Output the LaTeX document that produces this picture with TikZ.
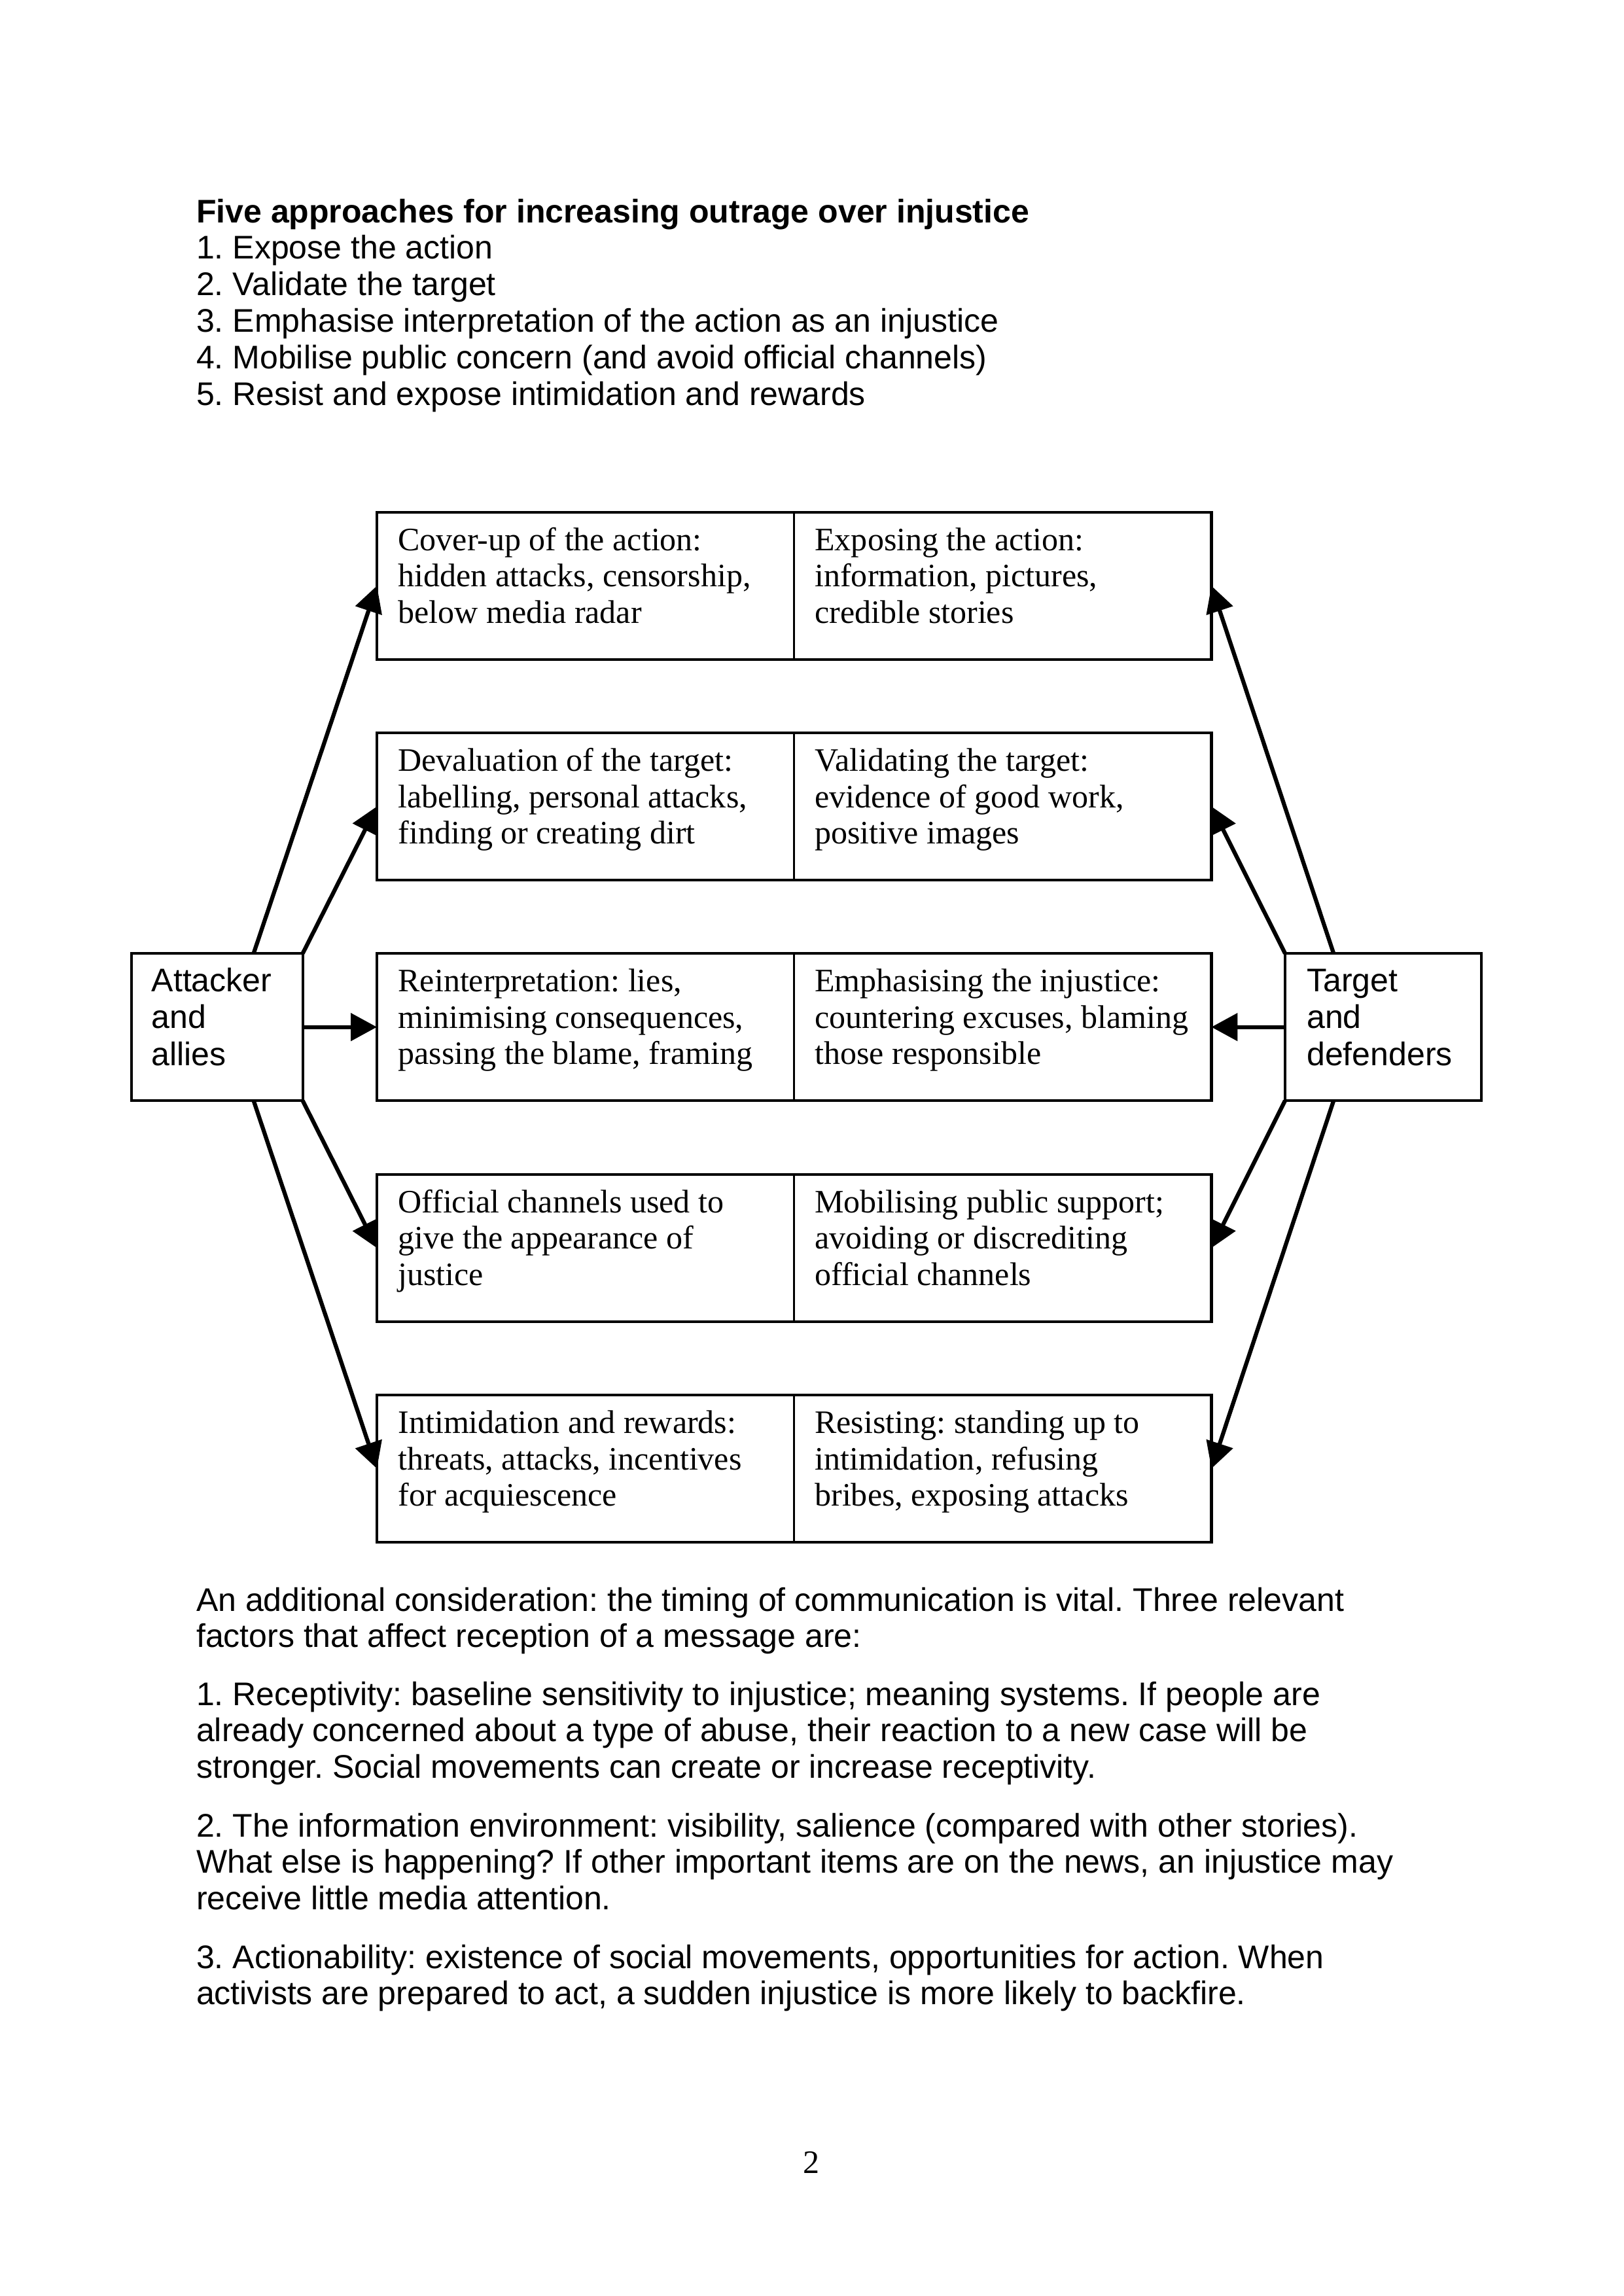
\documentclass[tikz,border=0pt]{standalone}
\usepackage{fontspec}
\setmainfont{Liberation Serif}
\setsansfont{Liberation Sans}
\usetikzlibrary{arrows.meta,calc}
\frenchspacing

\newcommand\mycell[6]{%
  \node[cell] (#1a) at (#2,#3) {#4};
  \node[cell] (#1b) at (#2,#3+13.3) {#5};
  \node[cell] (#1c) at (#2,#3+26.6) {#6};
}
\newcommand\myside[6]{%
  \node[sline] (#1a) at (#2,#3) {#4};
  \node[sline] (#1b) at (#2,#3+13.5) {#5};
  \node[sline] (#1c) at (#2,#3+27) {#6};
}

\begin{document}
\frenchspacing
\begin{tikzpicture}[x=1pt,y=-1pt,
  sline/.style={anchor=base west, inner sep=0pt, outer sep=0pt, font=\sffamily\fontsize{12}{13.4}\selectfont\frenchspacing},
  cell/.style={anchor=base west, inner sep=0pt, outer sep=0pt, font=\rmfamily\fontsize{12}{13.3}\selectfont\frenchspacing},
  rowbox/.style={draw, line width=1pt, minimum width=306pt, minimum height=54pt, inner sep=0pt, outer sep=0pt},
  sidebox/.style={draw, line width=1pt, minimum height=54pt, inner sep=0pt, outer sep=0pt},
  divider/.style={line width=0.8pt},
  conn/.style={line width=1.5pt, -{Triangle[length=9.6pt,width=10pt]}},
]
\useasboundingbox (0,0) rectangle (595.28,841.89);

% ---- heading ----
\node[sline, font=\sffamily\bfseries\fontsize{12}{13.4}\selectfont] (title) at (72,81.6) {Five approaches for increasing outrage over injustice};
\node[sline] (h1) at (72,95.0) {1. Expose the action};
\node[sline] (h2) at (72,108.4) {2. Validate the target};
\node[sline] (h3) at (72,121.8) {3. Emphasise interpretation of the action as an injustice};
\node[sline] (h4) at (72,135.2) {4. Mobilise public concern (and avoid official channels)};
\node[sline] (h5) at (72,148.6) {5. Resist and expose intimidation and rewards};

% ---- row boxes ----
\node[rowbox] (row1) at (291.2,214.8) {};
\node[rowbox] (row2) at (291.2,295.7) {};
\node[rowbox] (row3) at (291.2,376.6) {};
\node[rowbox] (row4) at (291.2,457.6) {};
\node[rowbox] (row5) at (291.2,538.5) {};
\draw[divider] (row1.north) -- (row1.south);
\draw[divider] (row2.north) -- (row2.south);
\draw[divider] (row3.north) -- (row3.south);
\draw[divider] (row4.north) -- (row4.south);
\draw[divider] (row5.north) -- (row5.south);

% ---- side boxes ----
\node[sidebox, minimum width=62.8pt] (att) at (79.6,376.6) {};
\node[sidebox, minimum width=72pt] (tgt) at (507.2,376.6) {};
\coordinate (attN) at ($(att.north west)+(44.8,0)$);
\coordinate (attS) at ($(att.south west)+(44.8,0)$);
\coordinate (tgtN) at ($(tgt.north west)+(17.8,0)$);
\coordinate (tgtS) at ($(tgt.south west)+(17.8,0)$);

\myside{att}{55.6}{363.6}{Attacker}{and}{allies}
\myside{tgt}{479.2}{363.6}{Target}{and}{defenders}

% ---- cell texts ----
\mycell{c1l}{146.0}{201.9}{Cover-up of the action:}{hidden attacks, censorship,}{below media radar}
\mycell{c1r}{298.8}{201.9}{Exposing the action:}{information, pictures,}{credible stories}
\mycell{c2l}{146.0}{282.8}{Devaluation of the target:}{labelling, personal attacks,}{finding or creating dirt}
\mycell{c2r}{298.8}{282.8}{Validating the target:}{evidence of good work,}{positive images}
\mycell{c3l}{146.0}{363.7}{Reinterpretation: lies,}{minimising consequences,}{passing the blame, framing}
\mycell{c3r}{298.8}{363.7}{Emphasising the injustice:}{countering excuses, blaming}{those responsible}
\mycell{c4l}{146.0}{444.7}{Official channels used to}{give the appearance of}{justice}
\mycell{c4r}{298.8}{444.7}{Mobilising public support;}{avoiding or discrediting}{official channels}
\mycell{c5l}{146.0}{525.6}{Intimidation and rewards:}{threats, attacks, incentives}{for acquiescence}
\mycell{c5r}{298.8}{525.6}{Resisting: standing up to}{intimidation, refusing}{bribes, exposing attacks}

% ---- connectors ----
\draw[conn] (attN) -- (row1.west);
\draw[conn] (att.north east) -- (row2.west);
\draw[conn] (att.east) -- (row3.west);
\draw[conn] (att.south east) -- (row4.west);
\draw[conn] (attS) -- (row5.west);
\draw[conn] (tgtN) -- (row1.east);
\draw[conn] (tgt.north west) -- (row2.east);
\draw[conn] (tgt.west) -- (row3.east);
\draw[conn] (tgt.south west) -- (row4.east);
\draw[conn] (tgtS) -- (row5.east);

% ---- bottom text ----
\node[sline] (p1a) at (72,590.7) {An additional consideration: the timing of communication is vital. Three relevant};
\node[sline] (p1b) at (72,604.0) {factors that affect reception of a message are:};
\node[sline] (p2a) at (72,625.3) {1. Receptivity: baseline sensitivity to injustice; meaning systems. If people are};
\node[sline] (p2b) at (72,638.6) {already concerned about a type of abuse, their reaction to a new case will be};
\node[sline] (p2c) at (72,651.9) {stronger. Social movements can create or increase receptivity.};
\node[sline] (p3a) at (72,673.5) {2. The information environment: visibility, salience (compared with other stories).};
\node[sline] (p3b) at (72,686.8) {What else is happening? If other important items are on the news, an injustice may};
\node[sline] (p3c) at (72,700.1) {receive little media attention.};
\node[sline] (p4a) at (72,721.7) {3. Actionability: existence of social movements, opportunities for action. When};
\node[sline] (p4b) at (72,735.0) {activists are prepared to act, a sudden injustice is more likely to backfire.};

\node[anchor=base, inner sep=0pt, font=\rmfamily\fontsize{12}{13.3}\selectfont] (pagenum) at (297.4,797) {2};
\end{tikzpicture}
\end{document}
